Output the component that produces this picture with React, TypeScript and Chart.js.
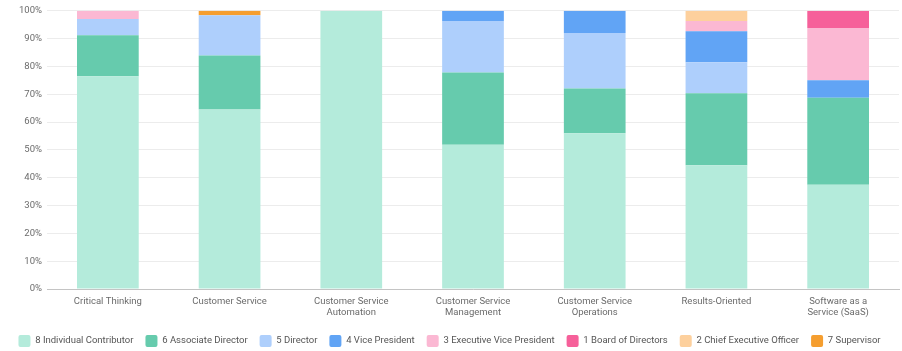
import React, { useEffect, useRef } from "react";
import { Chart, registerables } from "chart.js";

Chart.register(...registerables);

// Skill categories along the x axis (multi-line labels as arrays)
const categories: (string | string[])[] = [
  "Critical Thinking",
  "Customer Service",
  ["Customer Service", "Automation"],
  ["Customer Service", "Management"],
  ["Customer Service", "Operations"],
  "Results-Oriented",
  ["Software as a", "Service (SaaS)"],
];

// Share of each seniority level per skill, in percent
const individualContributor = [76.47, 64.52, 100, 51.85, 56, 44.44, 37.5];
const associateDirector = [14.71, 19.35, 0, 25.93, 16, 25.93, 31.25];
const director = [5.88, 14.52, 0, 18.52, 20, 11.11, 0];
const vicePresident = [0, 0, 0, 3.7, 8, 11.11, 6.25];
const executiveVicePresident = [2.94, 0, 0, 0, 0, 3.7, 18.75];
const boardOfDirectors = [0, 0, 0, 0, 0, 0, 6.25];
const chiefExecutiveOfficer = [0, 0, 0, 0, 0, 3.7, 0];
const supervisor = [0, 1.61, 0, 0, 0, 0, 0];

const yTicks = [0, 10, 20, 30, 40, 50, 60, 70, 80, 90, 100];

const series = [
  { label: "8 Individual Contributor", data: individualContributor, color: "#b4ebdb" },
  { label: "6 Associate Director", data: associateDirector, color: "#66cbad" },
  { label: "5 Director", data: director, color: "#aecffc" },
  { label: "4 Vice President", data: vicePresident, color: "#61a4f5" },
  { label: "3 Executive Vice President", data: executiveVicePresident, color: "#fbb8d3" },
  { label: "1 Board of Directors", data: boardOfDirectors, color: "#f6609a" },
  { label: "2 Chief Executive Officer", data: chiefExecutiveOfficer, color: "#fdd09d" },
  { label: "7 Supervisor", data: supervisor, color: "#f59e2f" },
];

const FONT = "Roboto, 'Noto Sans', sans-serif";

export default function App() {
  const canvasRef = useRef<HTMLCanvasElement | null>(null);

  useEffect(() => {
    document.body.style.margin = "0";
    const canvas = canvasRef.current;
    if (!canvas) return;

    const chart = new Chart(canvas, {
      type: "bar",
      data: {
        labels: categories,
        datasets: series.map((s) => ({
          label: s.label,
          data: s.data,
          backgroundColor: s.color,
          borderWidth: 0,
          barPercentage: 0.507,
          categoryPercentage: 1,
        })),
      },
      options: {
        animation: false,
        responsive: false,
        maintainAspectRatio: false,
        layout: { padding: { top: 10, right: 3, bottom: -6, left: 0 } },
        plugins: {
          tooltip: { enabled: false },
          legend: {
            position: "bottom",
            labels: {
              boxWidth: 12,
              boxHeight: 12,
              padding: 12,
              useBorderRadius: true,
              borderRadius: 2,
              color: "#555",
              font: { family: FONT, size: 9.5 },
            },
          },
        },
        scales: {
          x: {
            stacked: true,
            grid: { display: false, drawTicks: false },
            border: { display: true, color: "#c4c4c4", width: 1 },
            ticks: {
              color: "#6b6b6b",
              padding: 7,
              maxRotation: 0,
              autoSkip: false,
              font: { family: FONT, size: 9.5, lineHeight: 1.15 },
            },
            afterFit: (scale: any) => {
              scale.height = 34;
            },
          },
          y: {
            stacked: true,
            min: 0,
            max: 100,
            afterBuildTicks: (scale: any) => {
              scale.ticks = yTicks.map((v) => ({ value: v }));
            },
            grid: { color: "#ececec", drawTicks: false },
            border: { display: false },
            ticks: {
              color: "#6b6b6b",
              padding: 5,
              font: { family: FONT, size: 9.5 },
              callback: (v: any) => `${v}%`,
            },
            afterFit: (scale: any) => {
              scale.width = 47;
            },
          },
        },
      },
    });

    return () => chart.destroy();
  }, []);

  return (
    <div style={{ width: 902, height: 351, background: "#fff" }}>
      <canvas ref={canvasRef} width={902} height={351} style={{ display: "block" }} />
    </div>
  );
}
